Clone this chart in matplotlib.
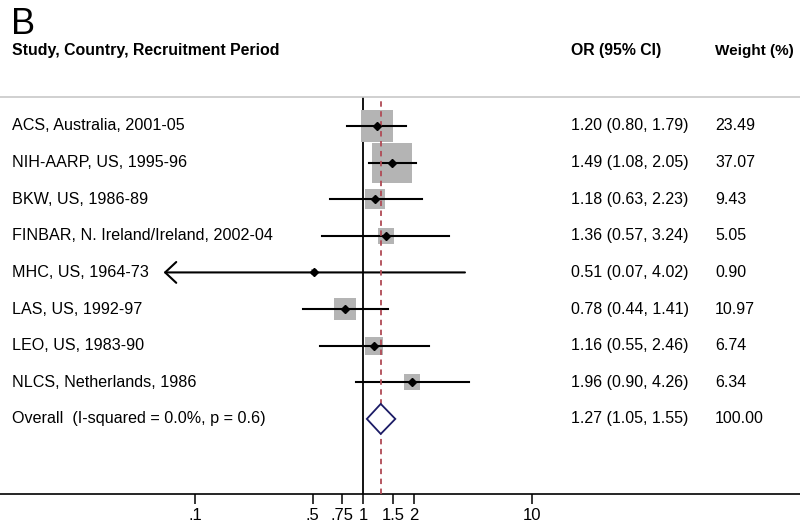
import matplotlib
matplotlib.use("Agg")
import matplotlib.pyplot as plt
import matplotlib.transforms as mtransforms
import numpy as np

plt.rcParams['font.family'] = ['Liberation Sans', 'DejaVu Sans']

# study data
studies = ["ACS, Australia, 2001-05", "NIH-AARP, US, 1995-96", "BKW, US, 1986-89",
           "FINBAR, N. Ireland/Ireland, 2002-04", "MHC, US, 1964-73", "LAS, US, 1992-97",
           "LEO, US, 1983-90", "NLCS, Netherlands, 1986"]
or_est = [1.20, 1.49, 1.18, 1.36, 0.51, 0.78, 1.16, 1.96]
ci_low = [0.80, 1.08, 0.63, 0.57, 0.07, 0.44, 0.55, 0.90]
ci_high = [1.79, 2.05, 2.23, 3.24, 4.02, 1.41, 2.46, 4.26]
weights = [23.49, 37.07, 9.43, 5.05, 0.90, 10.97, 6.74, 6.34]

overall_label = "Overall  (I-squared = 0.0%, p = 0.6)"
overall_or, overall_low, overall_high = 1.27, 1.05, 1.55

tick_vals = [0.1, 0.5, 0.75, 1, 1.5, 2, 10]
tick_labels = [".1", ".5", ".75", "1", "1.5", "2", "10"]

W, H = 800, 528
fig = plt.figure(figsize=(W / 100, H / 100), dpi=100)
ax = fig.add_axes([0, 34 / H, 1, (494 - 97) / H])

ax.set_xscale('log')
ax.set_xlim(0.00694, 393.6)
ax.set_ylim(10.05, -0.79)

for s in ['left', 'right']:
    ax.spines[s].set_visible(False)
ax.spines['top'].set_color('#c8c8c8')
ax.spines['top'].set_linewidth(1.2)
ax.spines['bottom'].set_linewidth(1.2)
ax.set_yticks([])
ax.minorticks_off()
ax.set_xticks(tick_vals)
ax.set_xticklabels(tick_labels, fontsize=12)
ax.tick_params(axis='x', length=7, width=1.1, direction='out', pad=3)

# reference lines
ax.axvline(1, color='black', lw=1.3, zorder=1)
ax.axvline(overall_or, color='#b04a55', lw=1.3, ls=(0, (3, 2.5)), zorder=4)

rows = np.arange(len(studies))
px_to_pt = 72 / 100
for i, y in enumerate(rows):
    side = 6.73 * np.sqrt(weights[i]) * px_to_pt
    ax.scatter(or_est[i], y, marker='s', s=side ** 2, color='#b4b4b4', lw=0, zorder=2)
    if i == 4:
        # lower limit runs off, draw an open arrow head
        ax.annotate('', xy=(ci_low[i] * 0.93, y), xytext=(ci_high[i], y),
                    arrowprops=dict(arrowstyle='->, head_length=0.8, head_width=0.75',
                                    color='black', lw=1.5, shrinkA=0, shrinkB=0), zorder=3)
    else:
        ax.plot([ci_low[i], ci_high[i]], [y, y], color='black', lw=1.5, zorder=3)
    ax.plot(or_est[i], y, marker='D', ms=3.6, color='black', zorder=5)

# overall diamond
yo = len(studies)
dh = 0.41
ax.fill([overall_low, overall_or, overall_high, overall_or],
        [yo, yo - dh, yo, yo + dh], facecolor='white', edgecolor='#1c1c66', lw=1.3, zorder=5)

# text columns
trans = mtransforms.blended_transform_factory(ax.transAxes, ax.transData)
all_labels = studies + [overall_label]
or_text = ["%.2f (%.2f, %.2f)" % (o, l, h) for o, l, h in zip(or_est, ci_low, ci_high)]
or_text.append("%.2f (%.2f, %.2f)" % (overall_or, overall_low, overall_high))
w_text = ["%.2f" % w for w in weights] + ["100.00"]
for i, y in enumerate(list(rows) + [yo]):
    ax.text(12 / W, y, all_labels[i], transform=trans, fontsize=11.6, va='center', ha='left')
    ax.text(571 / W, y, or_text[i], transform=trans, fontsize=11.5, va='center', ha='left')
    ax.text(715 / W, y, w_text[i], transform=trans, fontsize=11.5, va='center', ha='left')

# headers
fig.text(11 / W, 1 - 24 / H, "B", fontsize=26, va='center', ha='left')
fig.text(12 / W, 1 - 51 / H, "Study, Country, Recruitment Period", fontsize=11.4,
         fontweight='bold', va='center', ha='left')
fig.text(571 / W, 1 - 51 / H, "OR (95% CI)", fontsize=11.4, fontweight='bold', va='center', ha='left')
fig.text(715 / W, 1 - 51 / H, "Weight (%)", fontsize=11, fontweight='bold', va='center', ha='left')

fig.savefig("out.png", dpi=100)
